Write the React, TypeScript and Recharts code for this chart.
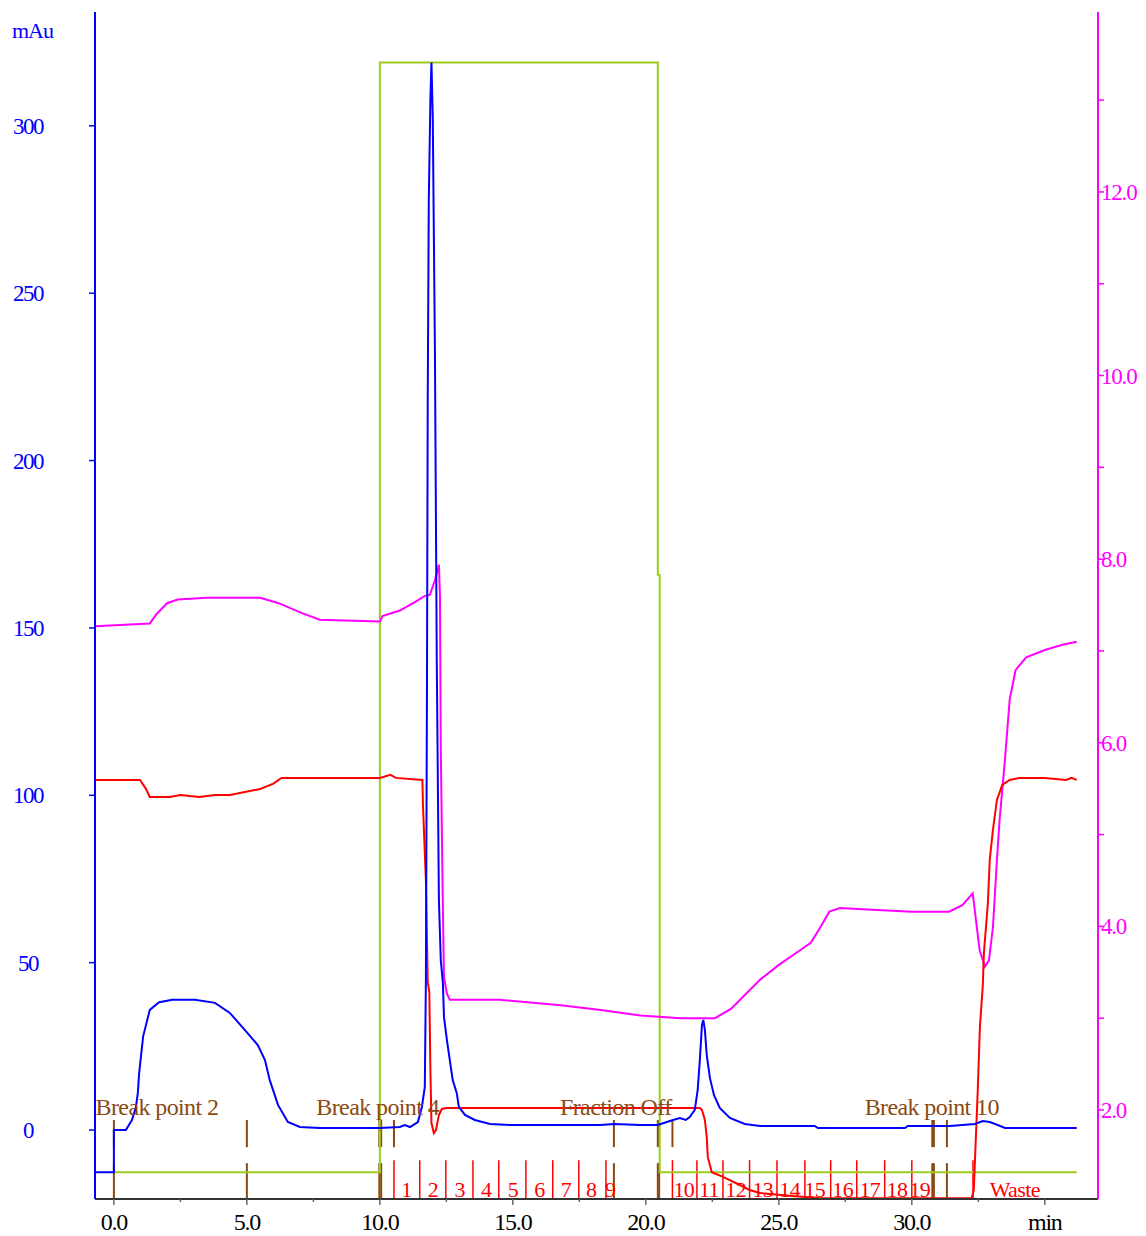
import React from 'react';
import { ComposedChart, Line, XAxis, YAxis, ReferenceLine, Scatter } from 'recharts';

// UV trace, mAu (left axis)
const uvTrace: [number, number][] = [
  [-0.71, -12.6], [0.0, -12.6], [0.0, 0], [0.45, 0], [0.68, 3.0], [0.83, 6.9], [0.9, 11.1], [0.95, 17],
  [1.1, 28], [1.35, 35.9], [1.7, 38.2], [2.2, 38.9], [3.05, 38.9], [3.8, 38.0], [4.36, 35.0], [4.92, 29.9],
  [5.41, 25.4], [5.68, 20.9], [5.86, 14.9], [6.17, 7.5], [6.54, 2.4], [6.99, 0.9], [7.74, 0.6], [10.0, 0.6],
  [10.75, 0.9], [10.94, 1.5], [11.13, 0.9], [11.43, 2.4], [11.58, 6.9], [11.69, 12.9], [11.73, 44.2],
  [11.77, 128.5], [11.8, 218], [11.84, 278], [11.9, 308], [11.94, 318.9], [11.99, 302], [12.07, 233],
  [12.14, 140], [12.22, 68.7], [12.29, 50.8], [12.37, 43.9], [12.41, 33.8], [12.52, 26.9], [12.63, 20.9],
  [12.74, 14.9], [12.89, 11.1], [12.97, 6.9], [13.2, 4.5], [13.57, 3.0], [14.14, 1.8], [14.89, 1.5],
  [18.27, 1.5], [18.83, 1.8], [19.77, 1.5], [20.45, 1.5], [21.02, 3.0], [21.28, 3.6], [21.5, 3.0],
  [21.65, 3.9], [21.84, 6.0], [21.95, 12.0], [22.03, 20.9], [22.11, 31.4], [22.16, 32.9], [22.22, 29.9],
  [22.29, 22.4], [22.41, 15.5], [22.56, 10.5], [22.78, 6.6], [23.16, 3.6], [23.72, 1.8], [24.29, 1.2],
  [26.35, 1.2], [26.47, 0.6], [29.74, 0.6], [29.85, 1.2], [31.43, 1.2], [32.37, 1.8], [32.67, 2.7],
  [32.93, 2.4], [33.23, 1.5], [33.5, 0.6], [36.2, 0.6],
];

// conductivity trace (drawn on left axis scale)
const condTrace: [number, number][] = [
  [-0.71, 104.6], [0.98, 104.6], [1.2, 102], [1.35, 99.5], [2.1, 99.5], [2.5, 100.1], [3.2, 99.5],
  [3.8, 100.1], [4.36, 100.1], [4.92, 101.0], [5.5, 101.9], [6.0, 103.5], [6.3, 105.2], [10.0, 105.2],
  [10.4, 106.1], [10.6, 105.2], [11.6, 104.6], [11.62, 97.1], [11.73, 74.7], [11.8, 44.2], [11.86, 41.2],
  [11.9, 17.9], [11.94, 2.1], [12.03, -0.9], [12.11, 0], [12.22, 4.5], [12.33, 6.3], [12.5, 6.6],
  [22.03, 6.6], [22.11, 6.0], [22.22, 3.0], [22.29, -2.1], [22.33, -8.1], [22.48, -12.6], [22.9, -14.0],
  [23.4, -15.9], [23.9, -17.9], [24.29, -18.8], [25.5, -19.7], [26.5, -20.3], [32.25, -20.4],
  [32.33, -17.9], [32.48, 12.0], [32.56, 30.8], [32.67, 43.3], [32.71, 52.9], [32.86, 67.8], [32.93, 80.7],
  [33.05, 89.7], [33.2, 98.6], [33.4, 103.1], [33.68, 104.6], [34.05, 105.2], [35.0, 105.2], [35.8, 104.6],
  [36.0, 105.2], [36.2, 104.6],
];

// pressure / right axis trace
const rightTrace: [number, number][] = [
  [-0.71, 7.27], [1.35, 7.3], [1.6, 7.4], [2.0, 7.52], [2.4, 7.56], [3.5, 7.58], [5.5, 7.58], [6.2, 7.52],
  [7.0, 7.42], [7.74, 7.34], [10.0, 7.32], [10.1, 7.38], [10.75, 7.44], [11.3, 7.53], [11.69, 7.6],
  [11.88, 7.61], [12.07, 7.77], [12.22, 7.94], [12.26, 7.6], [12.29, 5.94], [12.37, 4.2], [12.41, 3.45],
  [12.52, 3.27], [12.63, 3.2], [14.5, 3.2], [16.8, 3.14], [18.3, 3.09], [19.8, 3.03], [21.3, 3.0],
  [22.6, 3.0], [23.2, 3.1], [24.3, 3.42], [25.0, 3.58], [25.8, 3.74], [26.2, 3.82], [26.5, 3.96],
  [26.9, 4.16], [27.3, 4.2], [28.5, 4.18], [30.0, 4.16], [31.4, 4.16], [31.9, 4.23], [32.29, 4.36],
  [32.55, 3.74], [32.75, 3.56], [32.9, 3.63], [33.05, 3.99], [33.2, 4.72], [33.3, 5.16], [33.5, 5.81],
  [33.68, 6.47], [33.9, 6.79], [34.3, 6.93], [35.0, 7.01], [35.7, 7.07], [36.2, 7.1],
];

// gradient step (left axis scale)
const gradTrace: [number, number][] = [
  [0.0, -12.6], [10.0, -12.6], [10.0, 318.9], [20.45, 318.9], [20.45, 165.9], [20.52, 165.9],
  [20.52, -12.6], [36.2, -12.6],
];

const fullMarkers = [0.0, 5.0, 9.98, 10.05, 18.8, 20.45, 20.5, 30.77, 30.83, 31.32];
const upperMarkers = [10.53, 21.0];
const markerLabels = [
  { t: 1.62, label: 'Break point 2' },
  { t: 9.92, label: 'Break point 4' },
  { t: 18.87, label: 'Fraction Off' },
  { t: 30.75, label: 'Break point 10' },
];

const fractionTicks = [10.53, 11.5, 12.48, 13.5, 14.47, 15.49, 16.5, 17.48, 18.5, 21.0, 21.92, 22.9, 23.9, 24.93, 25.98, 26.95, 27.93, 28.98, 30.0, 32.3];
const fractionLabels = [
  { t: 11.0, label: '1' }, { t: 12.0, label: '2' }, { t: 13.0, label: '3' }, { t: 14.0, label: '4' },
  { t: 15.0, label: '5' }, { t: 16.0, label: '6' }, { t: 17.0, label: '7' }, { t: 17.95, label: '8' },
  { t: 18.66, label: '9' }, { t: 21.43, label: '10' }, { t: 22.37, label: '11' }, { t: 23.38, label: '12' },
  { t: 24.4, label: '13' }, { t: 25.41, label: '14' }, { t: 26.35, label: '15' }, { t: 27.4, label: '16' },
  { t: 28.42, label: '17' }, { t: 29.44, label: '18' }, { t: 30.3, label: '19' }, { t: 33.87, label: 'Waste' },
];

const xTicks = [0, 2.5, 5, 7.5, 10, 12.5, 15, 17.5, 20, 22.5, 25, 27.5, 30, 32.5, 35];
const leftTicks = [0, 50, 100, 150, 200, 250, 300];
const rightTicks = [2, 3, 4, 5, 6, 7, 8, 9, 10, 11, 12, 13];

const W = 1146;
const H = 1236;
const TOP = 12;
const XAXIS_H = 37;
const LEFT_W = 95;
const RIGHT_W = 48;
const AXIS_Y = H - XAXIS_H;
const RIGHT_X = W - RIGHT_W;
const FONT = "'Liberation Serif', 'Times New Roman', serif";

const BLUE = '#0000ff';
const RED = '#ff0000';
const MAGENTA = '#ff00ff';
const GREEN = '#9acd1e';
const BROWN = '#8b4a12';

const pts = (a: [number, number][]) => a.map(([t, v]) => ({ t, v }));

const XTick = ({ x, payload }: any) => {
  const v = payload.value;
  const major = v % 5 === 0;
  return (
    <g>
      <line x1={x} x2={x} y1={AXIS_Y} y2={AXIS_Y + (major ? 6 : 3)} stroke="#666" strokeWidth={1.5} />
      {major && (
        <text x={x} y={AXIS_Y + 31} textAnchor="middle" fill="#000" fontSize={24} fontFamily={FONT} letterSpacing={-1.2}>
          {v === 35 ? 'min' : v.toFixed(1)}
        </text>
      )}
    </g>
  );
};

const LeftTick = ({ y, payload }: any) => (
  <g>
    <line x1={LEFT_W - 6} x2={LEFT_W} y1={y} y2={y} stroke={BLUE} strokeWidth={1.5} />
    <text x={28} y={y + 8} textAnchor="middle" fill={BLUE} fontSize={23} fontFamily={FONT} letterSpacing={-1.5}>
      {payload.value}
    </text>
  </g>
);

const RightTick = ({ y, payload }: any) => {
  const v = payload.value;
  const major = v % 2 === 0;
  return (
    <g>
      <line x1={RIGHT_X} x2={RIGHT_X + 6} y1={y} y2={y} stroke={MAGENTA} strokeWidth={1.5} />
      {major && (
        <text x={RIGHT_X + 3} y={y + 8} textAnchor="start" fill={MAGENTA} fontSize={23} fontFamily={FONT} letterSpacing={-1.2}>
          {v.toFixed(1)}
        </text>
      )}
    </g>
  );
};

const LabelShape = (color: string, size: number) => (props: any) => {
  const { cx, cy, payload } = props;
  return (
    <text x={cx} y={cy} textAnchor="middle" fill={color} fontSize={size} fontFamily={FONT} letterSpacing={-0.6}>
      {payload.label}
    </text>
  );
};

export default function App() {
  return (
    <div style={{ position: 'absolute', left: 0, top: 0, background: '#fff' }}>
      <ComposedChart width={W} height={H} margin={{ top: TOP, right: 0, bottom: 0, left: 0 }}>
        <XAxis
          dataKey="t"
          type="number"
          domain={[-0.71, 37]}
          allowDataOverflow
          ticks={xTicks}
          interval={0}
          height={XAXIS_H}
          stroke="#333"
          strokeWidth={2}
          tickLine={false}
          tick={<XTick />}
        />
        <YAxis
          yAxisId="left"
          type="number"
          domain={[-20.6, 334]}
          allowDataOverflow
          ticks={leftTicks}
          interval={0}
          width={LEFT_W}
          stroke={BLUE}
          strokeWidth={2}
          tickLine={false}
          tick={<LeftTick />}
        />
        <YAxis
          yAxisId="right"
          orientation="right"
          type="number"
          domain={[1.03, 13.96]}
          allowDataOverflow
          ticks={rightTicks}
          interval={0}
          width={RIGHT_W}
          stroke={MAGENTA}
          strokeWidth={2}
          tickLine={false}
          tick={<RightTick />}
        />

        {fractionTicks.map((t) => (
          <ReferenceLine key={'f' + t} yAxisId="left" ifOverflow="visible" stroke={RED} strokeWidth={1.5}
            segment={[{ x: t, y: -9.0 }, { x: t, y: -20.6 }]} />
        ))}
        {fullMarkers.map((t) => (
          <ReferenceLine key={'ml' + t} yAxisId="left" ifOverflow="visible" stroke={BROWN} strokeWidth={2}
            segment={[{ x: t, y: -9.9 }, { x: t, y: -20.6 }]} />
        ))}
        {[...fullMarkers, ...upperMarkers].map((t) => (
          <ReferenceLine key={'mu' + t} yAxisId="left" ifOverflow="visible" stroke={BROWN} strokeWidth={2}
            segment={[{ x: t, y: 3.0 }, { x: t, y: -5.1 }]} />
        ))}

        <Scatter yAxisId="left" dataKey="v" isAnimationActive={false}
          data={markerLabels.map((m) => ({ t: m.t, v: 4.5, label: m.label }))}
          shape={LabelShape(BROWN, 24)} />
        <Scatter yAxisId="left" dataKey="v" isAnimationActive={false}
          data={fractionLabels.map((m) => ({ t: m.t, v: -20.0, label: m.label }))}
          shape={LabelShape(RED, 22)} />

        <Line yAxisId="left" data={pts(gradTrace)} dataKey="v" type="linear" stroke={GREEN} strokeWidth={2} dot={false} isAnimationActive={false} />
        <Line yAxisId="right" data={pts(rightTrace)} dataKey="v" type="linear" stroke={MAGENTA} strokeWidth={2} dot={false} isAnimationActive={false} />
        <Line yAxisId="left" data={pts(condTrace)} dataKey="v" type="linear" stroke={RED} strokeWidth={2} dot={false} isAnimationActive={false} />
        <Line yAxisId="left" data={pts(uvTrace)} dataKey="v" type="linear" stroke={BLUE} strokeWidth={2} dot={false} isAnimationActive={false} />
      </ComposedChart>
      <div style={{ position: 'absolute', left: 12, top: 18, color: BLUE, fontFamily: FONT, fontSize: 22, letterSpacing: -1 }}>
        mAu
      </div>
    </div>
  );
}
